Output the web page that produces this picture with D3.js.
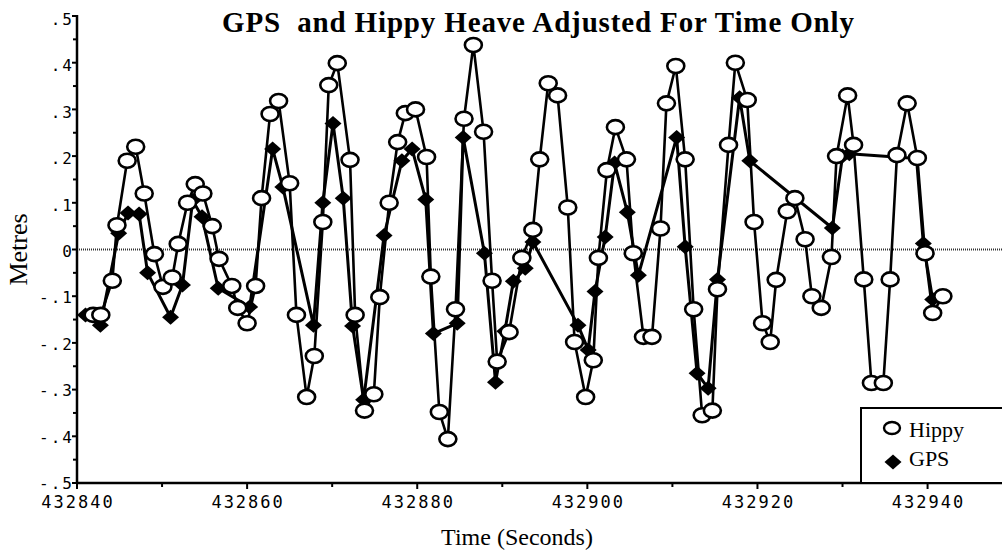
<!DOCTYPE html>
<html>
<head>
<meta charset="utf-8">
<script src="https://cdn.jsdelivr.net/npm/d3@7"></script>
<style>
  body { margin: 0; background: #fff; }
  svg { display: block; }
</style>
</head>
<body>
<div id="chart"></div>
<script>
// seconds after 432840 and heave in metres
const hippyTime = [1.9, 2.8, 4.15, 4.7, 5.9, 6.9, 7.9, 9.1, 10.1, 11.2, 11.9, 13.0, 13.9, 14.8, 15.9, 16.7,
  18.2, 18.9, 20.0, 21.0, 21.7, 22.7, 23.7, 25.0, 25.8, 27.0, 27.9, 28.9, 29.6, 30.6, 32.1, 32.7,
  33.8, 34.9, 35.6, 36.7, 37.7, 38.6, 39.8, 41.1, 41.6, 42.6, 43.6, 44.5, 45.5, 46.6, 47.8, 48.8,
  49.4, 50.8, 52.3, 53.6, 54.4, 55.4, 56.5, 57.7, 58.5, 59.8, 60.7, 61.3, 62.3, 63.3, 64.6, 65.4,
  66.6, 67.6, 68.6, 69.3, 70.4, 71.5, 72.5, 73.5, 74.7, 75.3, 76.6, 77.4, 78.8, 79.6, 80.6, 81.5,
  82.2, 83.5, 84.4, 85.6, 86.4, 87.5, 88.7, 89.3, 90.6, 91.3, 92.5, 93.4, 94.8, 95.6, 96.4, 97.6,
  98.8, 99.7, 100.6, 101.8];
const hippyHeave = [-0.14, -0.14, -0.067, 0.052, 0.19, 0.22, 0.12, -0.01, -0.08, -0.06, 0.012, 0.10, 0.14, 0.12, 0.05, -0.02,
  -0.078, -0.125, -0.158, -0.078, 0.11, 0.29, 0.318, 0.142, -0.14, -0.316, -0.228, 0.059, 0.352, 0.399, 0.192, -0.14,
  -0.345, -0.31, -0.102, 0.10, 0.23, 0.292, 0.30, 0.198, -0.058, -0.348, -0.406, -0.128, 0.28, 0.438, 0.252, -0.067,
  -0.24, -0.177, -0.018, 0.042, 0.193, 0.356, 0.33, 0.09, -0.198, -0.316, -0.237, -0.018, 0.17, 0.262, 0.193, -0.008,
  -0.187, -0.187, 0.045, 0.313, 0.393, 0.193, -0.128, -0.355, -0.345, -0.085, 0.224, 0.40, 0.32, 0.059, -0.158, -0.198,
  -0.065, 0.082, 0.11, 0.022, -0.10, -0.125, -0.016, 0.20, 0.33, 0.224, -0.064, -0.286, -0.286, -0.064, 0.202, 0.313,
  0.196, -0.008, -0.136, -0.10];

const gpsTime = [1.0, 2.75, 4.9, 6.0, 7.3, 8.3, 11.0, 12.4, 13.6, 14.7, 16.6, 20.3, 23.0, 24.2, 27.8, 28.9,
  30.1, 31.3, 32.4, 33.7, 36.1, 38.2, 39.4, 41.0, 41.9, 44.7, 45.4, 47.9, 49.2, 50.3, 51.3, 52.7,
  53.6, 58.9, 60.1, 60.9, 62.1, 63.2, 64.7, 66.0, 70.5, 71.5, 72.9, 74.2, 75.3, 77.9, 79.1, 88.8,
  90.0, 90.8, 98.7, 99.5, 100.6];
const gpsHeave = [-0.14, -0.162, 0.035, 0.078, 0.076, -0.05, -0.145, -0.076, 0.105, 0.07, -0.083, -0.123, 0.215, 0.134, -0.162, 0.10,
  0.27, 0.11, -0.164, -0.322, 0.03, 0.19, 0.215, 0.107, -0.18, -0.158, 0.24, -0.008, -0.284, -0.175, -0.068, -0.04,
  0.016, -0.162, -0.215, -0.09, 0.027, 0.185, 0.08, -0.055, 0.24, 0.006, -0.265, -0.297, -0.064, 0.325, 0.19, 0.046,
  0.2, 0.205, 0.195, 0.013, -0.107];

const t0 = 432840;
const xTicks = [432840, 432860, 432880, 432900, 432920, 432940];
const xMinor = [432850, 432870, 432890, 432910, 432930];
const yTicks = [-0.5, -0.4, -0.3, -0.2, -0.1, 0, 0.1, 0.2, 0.3, 0.4, 0.5];
const yLabels = ["-.5", "-.4", "-.3", "-.2", "-.1", "0", ".1", ".2", ".3", ".4", ".5"];
const yMinor = [-0.45, -0.35, -0.25, -0.15, -0.05, 0.05, 0.15, 0.25, 0.35, 0.45];

const W = 1002, H = 552;
const x = d3.scaleLinear().domain([432840, 432948.75]).range([77, 1002]);
const y = d3.scaleLinear().domain([-0.5, 0.5]).range([483, 16]);

const hippy = hippyTime.map((t, i) => ({ t: t0 + t, v: hippyHeave[i] }));
const gps = gpsTime.map((t, i) => ({ t: t0 + t, v: gpsHeave[i] }));

const svg = d3.select("#chart").append("svg")
  .attr("width", W)
  .attr("height", H);

// title
svg.append("text")
  .attr("x", 222).attr("y", 32)
  .attr("textLength", 632)
  .attr("lengthAdjust", "spacing")
  .style("font-family", "Liberation Serif, Times New Roman, serif")
  .style("font-weight", "bold")
  .style("font-size", "29px")
  .style("white-space", "pre")
  .text("GPS  and Hippy Heave Adjusted For Time Only");

// zero line (dotted)
svg.append("line")
  .attr("x1", x(432840)).attr("x2", W)
  .attr("y1", y(0)).attr("y2", y(0))
  .attr("stroke", "#333")
  .attr("stroke-width", 2)
  .attr("stroke-dasharray", "1,1");

// axes
const xAxis = svg.append("g").attr("transform", `translate(0,${y(-0.5)})`);
xAxis.append("line").attr("x1", x(432840) - 1).attr("x2", W).attr("stroke", "#000").attr("stroke-width", 2.5);
xAxis.selectAll(".maj").data(xTicks).enter().append("line")
  .attr("x1", d => x(d)).attr("x2", d => x(d)).attr("y1", 0).attr("y2", 6)
  .attr("stroke", "#000").attr("stroke-width", 2);
xAxis.selectAll(".min").data(xMinor).enter().append("line")
  .attr("x1", d => x(d)).attr("x2", d => x(d)).attr("y1", 0).attr("y2", 4)
  .attr("stroke", "#000").attr("stroke-width", 2);
xAxis.selectAll(".lab").data(xTicks).enter().append("text")
  .attr("x", d => x(d) + 1).attr("y", 25)
  .attr("text-anchor", "middle")
  .style("font-family", "DejaVu Sans Mono, monospace")
  .style("font-size", "17px")
  .style("letter-spacing", "2px")
  .text(d => d);

const yAxis = svg.append("g").attr("transform", `translate(${x(432840)},0)`);
yAxis.append("line").attr("y1", y(0.5) - 1).attr("y2", y(-0.5) + 1).attr("stroke", "#000").attr("stroke-width", 2.5);
yAxis.selectAll(".maj").data(yTicks).enter().append("line")
  .attr("y1", d => y(d)).attr("y2", d => y(d)).attr("x1", -5).attr("x2", 0)
  .attr("stroke", "#000").attr("stroke-width", 2);
yAxis.selectAll(".min").data(yMinor).enter().append("line")
  .attr("y1", d => y(d)).attr("y2", d => y(d)).attr("x1", -4).attr("x2", -1)
  .attr("stroke", "#000").attr("stroke-width", 2);
yAxis.selectAll(".lab").data(yTicks).enter().append("text")
  .attr("x", -3).attr("y", d => y(d) + 7.5 + 3 * d)
  .attr("text-anchor", "end")
  .style("font-family", "DejaVu Sans Mono, monospace")
  .style("font-size", "16px")
  .style("letter-spacing", "2px")
  .text((d, i) => yLabels[i]);

// axis titles
svg.append("text")
  .attr("x", 517).attr("y", 545)
  .attr("text-anchor", "middle")
  .style("font-family", "Liberation Serif, Times New Roman, serif")
  .style("font-size", "24px")
  .text("Time (Seconds)");

svg.append("text")
  .attr("transform", `translate(27,${y(0)}) rotate(-90)`)
  .attr("text-anchor", "middle")
  .style("font-family", "Liberation Serif, Times New Roman, serif")
  .style("font-size", "26px")
  .text("Metres");

// series
const line = d3.line().x(d => x(d.t)).y(d => y(d.v));

svg.append("path").datum(gps)
  .attr("d", line).attr("fill", "none")
  .attr("stroke", "#000").attr("stroke-width", 3).attr("stroke-linejoin", "round");

svg.append("path").datum(hippy)
  .attr("d", line).attr("fill", "none")
  .attr("stroke", "#000").attr("stroke-width", 2.6).attr("stroke-linejoin", "round");

const diamond = (cx, cy) => `M${cx - 8.5},${cy}L${cx},${cy - 7.5}L${cx + 8.5},${cy}L${cx},${cy + 7.5}Z`;

svg.selectAll(".gps").data(gps).enter().append("path")
  .attr("class", "gps")
  .attr("d", d => diamond(x(d.t), y(d.v)))
  .attr("fill", "#000");

svg.selectAll(".hippy").data(hippy).enter().append("ellipse")
  .attr("class", "hippy")
  .attr("cx", d => x(d.t)).attr("cy", d => y(d.v))
  .attr("rx", 8.5).attr("ry", 7)
  .attr("fill", "#fff").attr("stroke", "#000").attr("stroke-width", 2.6);

// legend
const lg = svg.append("g");
lg.append("rect")
  .attr("x", 861).attr("y", 408).attr("width", 160).attr("height", 75)
  .attr("fill", "#fff").attr("stroke", "#000").attr("stroke-width", 2);
lg.append("ellipse")
  .attr("cx", 892).attr("cy", 428).attr("rx", 8).attr("ry", 6)
  .attr("fill", "#fff").attr("stroke", "#000").attr("stroke-width", 2.4);
lg.append("path").attr("d", diamond(893, 462)).attr("fill", "#000");
lg.append("text").attr("x", 909).attr("y", 437)
  .style("font-family", "Liberation Serif, Times New Roman, serif").style("font-size", "22px")
  .text("Hippy");
lg.append("text").attr("x", 909).attr("y", 466)
  .style("font-family", "Liberation Serif, Times New Roman, serif").style("font-size", "22px")
  .text("GPS");
</script>
</body>
</html>
